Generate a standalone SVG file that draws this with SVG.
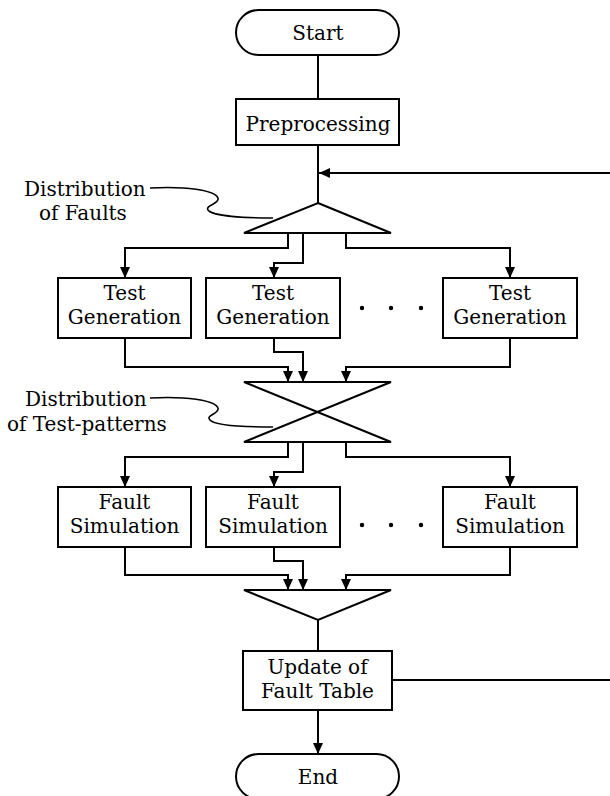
<svg xmlns="http://www.w3.org/2000/svg" width="610" height="796" viewBox="0 0 610 796">
<style>
  .shape { fill: #fff; stroke: #000; stroke-width: 2; }
  .line { fill: none; stroke: #000; stroke-width: 2; }
  .lead { fill: none; stroke: #000; stroke-width: 1.6; }
  text { font-family: "DejaVu Serif", "Liberation Serif", serif; fill: #000; }
  .t { font-size: 20px; text-anchor: middle; }
  .l { font-size: 20px; }
</style>
<defs>
  <marker id="arr" markerUnits="userSpaceOnUse" markerWidth="11" markerHeight="10" refX="11" refY="5" orient="auto">
    <path d="M0,0 L11,5 L0,10 z" fill="#000"/>
  </marker>
</defs>
<rect width="610" height="796" fill="#fff"/>

<g id="connectors">
  <path class="line" d="M318,55 V99"/>
  <path class="line" d="M318,145 V203"/>
  <path class="line" d="M610,173 H319" marker-end="url(#arr)"/>
  <path class="line" d="M392,680 H610"/>
  <path class="line" d="M288,233 V248 H125 V278" marker-end="url(#arr)"/>
  <path class="line" d="M303,233 V263 H274 V278" marker-end="url(#arr)"/>
  <path class="line" d="M346,233 V248 H510 V278" marker-end="url(#arr)"/>
  <path class="line" d="M125,338 V367 H288 V382" marker-end="url(#arr)"/>
  <path class="line" d="M274,338 V352 H303 V382" marker-end="url(#arr)"/>
  <path class="line" d="M510,338 V367 H346 V382" marker-end="url(#arr)"/>
  <path class="line" d="M288,442 V457 H125 V487" marker-end="url(#arr)"/>
  <path class="line" d="M303,442 V472 H274 V487" marker-end="url(#arr)"/>
  <path class="line" d="M346,442 V457 H510 V487" marker-end="url(#arr)"/>
  <path class="line" d="M125,547 V575 H288 V590" marker-end="url(#arr)"/>
  <path class="line" d="M274,547 V561 H303 V590" marker-end="url(#arr)"/>
  <path class="line" d="M510,547 V575 H346 V590" marker-end="url(#arr)"/>
  <path class="line" d="M318,620 V651"/>
  <path class="line" d="M318,710 V754" marker-end="url(#arr)"/>
</g>

<g id="start">
  <rect class="shape" x="236" y="10" width="163" height="45" rx="22.5"/>
  <text class="t" x="318" y="40">Start</text>
</g>
<g id="preprocessing">
  <rect class="shape" x="236" y="99" width="163" height="46"/>
  <text class="t" x="318" y="131">Preprocessing</text>
</g>
<g id="dist-faults">
  <polygon class="shape" points="318,203 391,233 244,233"/>
</g>
<g id="label-dist-faults">
  <text class="l" x="24" y="196">Distribution</text>
  <text class="l" x="39" y="220">of Faults</text>
  <path class="lead" d="M150,188 C185,186 215,190 218,198 C220,204 205,205 208,210 C212,216 245,218 273,218"/>
</g>
<g id="tg1">
  <rect class="shape" x="58" y="278" width="133" height="60"/>
  <text class="t" x="124.5" y="300">Test</text>
  <text class="t" x="124.5" y="324">Generation</text>
</g>
<g id="tg2">
  <rect class="shape" x="206" y="278" width="134" height="60"/>
  <text class="t" x="273" y="300">Test</text>
  <text class="t" x="273" y="324">Generation</text>
</g>
<g id="tg3">
  <rect class="shape" x="443" y="278" width="134" height="60"/>
  <text class="t" x="510" y="300">Test</text>
  <text class="t" x="510" y="324">Generation</text>
</g>
<g id="dots1">
  <circle cx="362" cy="308" r="2.2"/>
  <circle cx="391" cy="308" r="2.2"/>
  <circle cx="421" cy="308" r="2.2"/>
</g>
<g id="dist-patterns">
  <path class="line" d="M244,382 H391 L244,442 H391 Z"/>
</g>
<g id="label-dist-patterns">
  <text class="l" x="25" y="406">Distribution</text>
  <text class="l" x="7" y="431">of Test-patterns</text>
  <path class="lead" d="M150,398 C185,396 215,400 218,408 C220,414 205,415 210,420 C215,426 245,427 273,427"/>
</g>
<g id="fs1">
  <rect class="shape" x="58" y="487" width="133" height="60"/>
  <text class="t" x="124.5" y="509">Fault</text>
  <text class="t" x="124.5" y="533">Simulation</text>
</g>
<g id="fs2">
  <rect class="shape" x="206" y="487" width="134" height="60"/>
  <text class="t" x="273" y="509">Fault</text>
  <text class="t" x="273" y="533">Simulation</text>
</g>
<g id="fs3">
  <rect class="shape" x="443" y="487" width="134" height="60"/>
  <text class="t" x="510" y="509">Fault</text>
  <text class="t" x="510" y="533">Simulation</text>
</g>
<g id="dots2">
  <circle cx="362" cy="525" r="2.2"/>
  <circle cx="391" cy="525" r="2.2"/>
  <circle cx="421" cy="525" r="2.2"/>
</g>
<g id="collect">
  <polygon class="shape" points="244,590 391,590 318,620"/>
</g>
<g id="update">
  <rect class="shape" x="243" y="651" width="149" height="59"/>
  <text class="t" x="317.5" y="674">Update of</text>
  <text class="t" x="317.5" y="698">Fault Table</text>
</g>
<g id="end">
  <rect class="shape" x="236" y="754" width="163" height="45" rx="22.5"/>
  <text class="t" x="318" y="784">End</text>
</g>
</svg>
